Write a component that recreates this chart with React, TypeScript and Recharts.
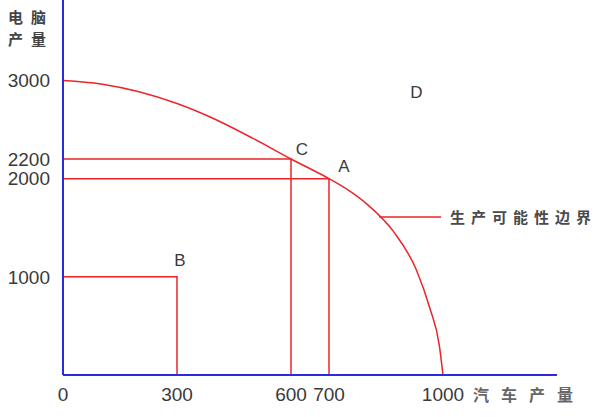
import React from 'react';
import { ComposedChart, Line, XAxis, YAxis, Scatter } from 'recharts';

// ---- data ----
const xTicks = [0, 300, 600, 700, 1000];
const yTicks = [1000, 2000, 2200, 3000];

// production possibility frontier (汽车产量 x, 电脑产量 y)
const frontier = [
  { x: 0, y: 3000 },
  { x: 100, y: 2965 },
  { x: 200, y: 2885 },
  { x: 300, y: 2765 },
  { x: 400, y: 2605 },
  { x: 500, y: 2410 },
  { x: 600, y: 2200 },
  { x: 700, y: 2000 },
  { x: 750, y: 1885 },
  { x: 800, y: 1740 },
  { x: 870, y: 1460 },
  { x: 930, y: 1070 },
  { x: 965, y: 685 },
  { x: 990, y: 310 },
  { x: 1000, y: 0 },
];

const guideB = [{ x: 0, y: 1000 }, { x: 300, y: 1000 }, { x: 300, y: 0 }];
const guideC = [{ x: 0, y: 2200 }, { x: 600, y: 2200 }, { x: 600, y: 0 }];
const guideA = [{ x: 0, y: 2000 }, { x: 700, y: 2000 }, { x: 700, y: 0 }];

const pointLabels = [
  { x: 300, y: 1000, name: 'B' },
  { x: 600, y: 2200, name: 'C' },
  { x: 700, y: 2000, name: 'A' },
  { x: 930, y: 2880, name: 'D' },
];

const leader = [{ x: 832, y: 1610 }, { x: 995, y: 1610 }];
const leaderEnd = [{ x: 995, y: 1610, name: '生产可能性边界' }];

const yAxisTitle = ['电脑', '产量'];
const xAxisTitle = '汽车产量';

// ---- styles ----
const RED = '#ec2428';
const BLUE = '#2a2ae0';
const TEXT = '#3a3a3a';
const NUM_FONT = '"Liberation Sans", Arial, sans-serif';
const CJK_FONT = '"Noto Sans CJK SC", sans-serif';
const LABEL_OFFSETS: Record<string, [number, number]> = {
  A: [15, -12],
  B: [3, -16],
  C: [11, -10],
  D: [0, 0],
};

const PointLetter = (props: any) => {
  const { cx, cy, payload } = props;
  const off = LABEL_OFFSETS[payload.name] || [0, 0];
  return (
    <text
      x={cx + off[0]}
      y={cy + off[1]}
      textAnchor="middle"
      dominantBaseline="central"
      fill={TEXT}
      fontSize={17}
      fontFamily={NUM_FONT}
    >
      {payload.name}
    </text>
  );
};

const LeaderText = (props: any) => {
  const { cx, cy, payload } = props;
  return (
    <text
      x={cx + 9}
      y={cy}
      dominantBaseline="central"
      fill="#4a4a4a"
      fontSize={15}
      fontWeight={700}
      letterSpacing={6}
      fontFamily={CJK_FONT}
    >
      {payload.name}
    </text>
  );
};

const YTitle = (props: any) => {
  const vb = props.viewBox || { x: 0, y: 0 };
  return (
    <text
      fill="#444"
      fontSize={15}
      fontWeight={700}
      letterSpacing={8}
      fontFamily={CJK_FONT}
    >
      {yAxisTitle.map((t, i) => (
        <tspan key={i} x={vb.x + 8} y={vb.y + 23 + i * 22}>
          {t}
        </tspan>
      ))}
    </text>
  );
};

const XTitle = (props: any) => {
  const vb = props.viewBox || { x: 0, y: 0, width: 0 };
  return (
    <text
      x={vb.x + vb.width - 84}
      y={vb.y + 19}
      dominantBaseline="central"
      fill="#666"
      fontSize={16}
      fontWeight={700}
      letterSpacing={12}
      fontFamily={CJK_FONT}
    >
      {xAxisTitle}
    </text>
  );
};

export default function App() {
  return (
    <div style={{ position: 'absolute', left: 0, top: 0, width: 600, height: 417, background: '#fff' }}>
      <ComposedChart width={600} height={417} margin={{ top: 0, right: 43, bottom: 0, left: 0 }}>
        <XAxis
          type="number"
          dataKey="x"
          domain={[0, 1300]}
          ticks={xTicks}
          interval={0}
          tickLine={false}
          axisLine={{ stroke: BLUE, strokeWidth: 2 }}
          height={42}
          tickMargin={7}
          tick={{ fill: TEXT, fontSize: 19, fontFamily: NUM_FONT }}
          label={<XTitle />}
        />
        <YAxis
          type="number"
          dataKey="y"
          domain={[0, 3820]}
          ticks={yTicks}
          interval={0}
          tickLine={false}
          axisLine={{ stroke: BLUE, strokeWidth: 2 }}
          width={63}
          tickMargin={7}
          tick={{ fill: TEXT, fontSize: 19, fontFamily: NUM_FONT }}
          label={<YTitle />}
        />
        <Line data={guideB} dataKey="y" type="linear" stroke={RED} strokeWidth={1.5} dot={false} isAnimationActive={false} />
        <Line data={guideC} dataKey="y" type="linear" stroke={RED} strokeWidth={1.5} dot={false} isAnimationActive={false} />
        <Line data={guideA} dataKey="y" type="linear" stroke={RED} strokeWidth={1.5} dot={false} isAnimationActive={false} />
        <Line data={frontier} dataKey="y" type="monotone" stroke={RED} strokeWidth={1.5} dot={false} isAnimationActive={false} />
        <Line data={leader} dataKey="y" type="linear" stroke={RED} strokeWidth={1.5} dot={false} isAnimationActive={false} />
        <Scatter data={pointLabels} dataKey="y" shape={<PointLetter />} isAnimationActive={false} />
        <Scatter data={leaderEnd} dataKey="y" shape={<LeaderText />} isAnimationActive={false} />
      </ComposedChart>
    </div>
  );
}
